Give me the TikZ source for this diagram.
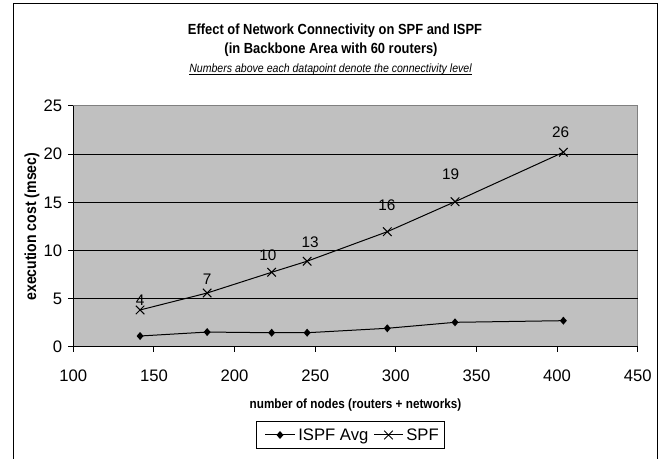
\documentclass[tikz,border=0pt]{standalone}
\usepackage{fontspec}
\setmainfont{Liberation Sans}
\newfontfamily\narrowfont[FakeStretch=0.88]{Liberation Sans}
\definecolor{plotgray}{HTML}{C0C0C0}
\definecolor{bordergray}{HTML}{808080}

\tikzset{
  chartframe/.style={draw=black, line width=0.75pt},
  gridline/.style={draw=black, line width=0.75pt},
  seriesline/.style={draw=black, line width=0.75pt},
  ticklabel/.style={inner sep=0pt, font=\fontsize{12.5pt}{14pt}\selectfont},
  pointlabel/.style={inner sep=0pt, font=\fontsize{11.5pt}{13pt}\selectfont},
  titletext/.style={inner sep=0pt, anchor=base, font=\narrowfont\bfseries\fontsize{11pt}{13pt}\selectfont},
  axistitle/.style={inner sep=0pt, font=\narrowfont\bfseries\fontsize{10pt}{12pt}\selectfont},
  legendtext/.style={inner sep=0pt, anchor=base west, font=\fontsize{12.5pt}{14pt}\selectfont},
  diamondmark/.pic={\fill (0,3pt) -- (2.6pt,0) -- (0,-3pt) -- (-2.6pt,0) -- cycle;},
  crossmark/.pic={\draw[line width=0.75pt] (-3.2pt,-3.2pt) -- (3.2pt,3.2pt) (-3.2pt,3.2pt) -- (3.2pt,-3.2pt);}
}

\begin{document}
\begin{tikzpicture}[x=0.75pt, y=0.75pt]
\useasboundingbox (0,0) rectangle (667,459);
% outer frame, its bottom edge lies below the page
\draw[chartframe] (13.3,-5) -- (13.3,455) -- (657.7,455) -- (657.7,-5);

% titles
\node[titletext] (title) at (335,424) {Effect of Network Connectivity on SPF and ISPF};
\node[titletext] (subtitle) at (331,405.7) {(in Backbone Area with 60 routers)};
\node[inner sep=0pt, anchor=base, font=\narrowfont\itshape\fontsize{9pt}{11pt}\selectfont] (note) at (330.5,386.7)
  {Numbers above each datapoint denote the connectivity level};
\draw[line width=0.75pt] ([yshift=-2pt]note.base west) -- ([yshift=-2pt]note.base east);

% plot area in data units
\begin{scope}[shift={(-87.96,112)}, x=1.20945pt, y=7.23pt]
  \fill[plotgray] (100,0) rectangle (450,25);
  \draw[bordergray, line width=0.75pt] (100,25) -- (450,25) -- (450,0);
  \foreach \v in {5,10,15,20}
    \draw[gridline] (100,\v) -- (450,\v);
  \draw[line width=0.75pt] (100,25) -- (100,0) -- (450,0);
  % axis ticks and labels
  \foreach \v in {0,5,...,25} {
    \draw[line width=0.75pt] (100,\v) -- ++(-3.75pt,0);
    \node[ticklabel, anchor=east] (ylab\v) at (93.3,\v) {\v};
  }
  \foreach \v in {100,150,...,450} {
    \draw[line width=0.75pt] (\v,0) -- ++(0,-3.75pt);
    \node[ticklabel] (xlab\v) at (\v,-3.0) {\v};
  }
  % data points
  \foreach \n/\xv/\sv/\iv in {1/141.4/3.84/1.14, 2/183/5.6/1.55, 3/223/7.75/1.48,
      4/245/8.9/1.48, 5/294.7/11.96/1.94, 6/336.7/15.07/2.56, 7/403.9/20.2/2.73} {
    \coordinate (spf\n) at (\xv,\sv);
    \coordinate (ispf\n) at (\xv,\iv);
  }
  \draw[seriesline] (ispf1) -- (ispf2) -- (ispf3) -- (ispf4) -- (ispf5) -- (ispf6) -- (ispf7);
  \draw[seriesline] (spf1) -- (spf2) -- (spf3) -- (spf4) -- (spf5) -- (spf6) -- (spf7);
  \foreach \n in {1,...,7} {
    \pic at (ispf\n) {diamondmark};
    \pic at (spf\n) {crossmark};
  }
  % connectivity levels
  \foreach \n/\xv/\yv/\txt in {1/141.4/4.88/4, 2/183/7.05/7, 3/220.7/9.54/10, 4/246.8/10.89/13,
      5/294.5/14.73/16, 6/334/17.95/19, 7/402.2/22.33/26}
    \node[pointlabel] (level\n) at (\xv,\yv) {\txt};
\end{scope}

% axis titles
\node[axistitle, rotate=90, font=\narrowfont\bfseries\fontsize{12pt}{14pt}\selectfont] (ytitle) at (32,232.3) {execution cost (msec)};
\node[axistitle] (xtitle) at (355.5,54) {number of nodes (routers + networks)};

% legend
\draw[line width=0.75pt] (256,10) rectangle (444,37.3);
\coordinate (ispfa) at (265,24);
\coordinate (ispfm) at (280,24);
\coordinate (ispfb) at (295,24);
\coordinate (spfa) at (374.3,24);
\coordinate (spfm) at (388.5,24);
\coordinate (spfb) at (402.7,24);
\draw[seriesline] (ispfa) -- (ispfb);
\pic at (ispfm) {diamondmark};
\draw[seriesline] (spfa) -- (spfb);
\pic at (spfm) {crossmark};
\node[legendtext] (ispfname) at (298,18.3) {ISPF Avg};
\node[legendtext] (spfname) at (406,18.3) {SPF};
\end{tikzpicture}
\end{document}
